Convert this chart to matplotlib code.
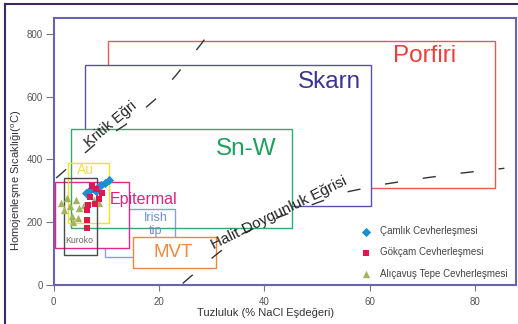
import matplotlib
matplotlib.use('Agg')
import matplotlib.pyplot as plt
from matplotlib.patches import Rectangle
from matplotlib.lines import Line2D

plt.rcParams['font.family'] = ['Liberation Sans', 'DejaVu Sans']
plt.rcParams['mathtext.fontset'] = 'custom'
plt.rcParams['mathtext.rm'] = 'Liberation Sans'
plt.rcParams['lines.scale_dashes'] = False

# Deposit fields: salinity (% NaCl eq.) and homogenization temperature (C) ranges
zones = ['Porfiri', 'Skarn', 'Sn-W', 'Irish', 'Epitermal', 'Au', 'Kuroko', 'MVT']
zone_sal = [(10.4, 83.7), (6.0, 60.3), (3.3, 45.2), (9.8, 23.0),
            (0.3, 14.3), (2.8, 10.6), (2.0, 8.2), (15.1, 30.9)]
zone_temp = [(309, 778), (252, 701), (183, 496), (90, 241),
             (119, 329), (197, 390), (96, 340), (53, 154)]

# Critical curve and halite saturation curve
kritik_x = [0.5, 7.7, 13.6, 19.2, 23.4, 28.0, 29.1]
kritik_y = [341, 446, 510, 590, 672, 768, 793]
halit_x = [24.5, 30.5, 36.0, 43.0, 50.0, 56.0, 63.0, 70.0, 77.0, 85.5]
halit_y = [5, 92, 165, 218, 262, 298, 322, 340, 356, 372]

# Fluid inclusion measurements
camlik_sal = [6.2, 6.9, 7.7, 8.1, 8.4, 9.0, 9.8, 10.5]
camlik_temp = [293, 303, 306, 300, 312, 319, 325, 335]
gokcam_sal = [7.3, 8.1, 9.2, 6.9, 8.6, 7.9, 6.5, 6.4, 6.4, 6.4]
gokcam_temp = [315, 306, 293, 280, 274, 258, 255, 239, 207, 182]
alicavus_sal = [2.6, 4.3, 3.1, 4.8, 3.5, 4.6, 5.8, 3.7, 2.0, 7.7, 1.4, 8.6]
alicavus_temp = [277, 271, 252, 245, 220, 214, 255, 201, 239, 271, 261, 262]

# colour, z of white fill (None = no fill), z of outline
zone_style = {
    'Porfiri':   ('#e65a55', 1, 1),
    'Skarn':     ('#5a52a8', 2, 2),
    'Sn-W':      ('#33a872', 3, 6),
    'Irish':     ('#86a2d4', None, 4),
    'Epitermal': ('#e2278c', 5, 6),
    'Au':        ('#f2e41c', None, 6),
    'Kuroko':    ('#4a4a4a', None, 6),
    'MVT':       ('#f0883c', 7, 7),
}

fig = plt.figure(figsize=(5.18, 3.24), dpi=100)
ax = fig.add_axes([0.1033, 0.1204, 0.8928, 0.8241])
ax.set_xlim(0, 87.7)
ax.set_ylim(0, 851)

for name, (x0, x1), (y0, y1) in zip(zones, zone_sal, zone_temp):
    color, fill_z, edge_z = zone_style[name]
    if fill_z is not None:
        ax.add_patch(Rectangle((x0, y0), x1 - x0, y1 - y0, facecolor='white',
                               edgecolor='none', zorder=fill_z))
    ax.add_patch(Rectangle((x0, y0), x1 - x0, y1 - y0, facecolor='none',
                           edgecolor=color, lw=1.0, zorder=edge_z + 0.5))

dash = (9.5, 18)
ax.plot(kritik_x, kritik_y, color='#333333', lw=1.0, dashes=dash, zorder=8)
ax.plot(halit_x, halit_y, color='#333333', lw=1.0, dashes=dash, zorder=8)

# field names
ax.text(70.3, 730, 'Porfiri', color='#e8403a', fontsize=17.5, ha='center', va='center', zorder=9)
ax.text(52.4, 648, 'Skarn', color='#3c3490', fontsize=17.5, ha='center', va='center', zorder=9)
ax.text(36.5, 433, 'Sn-W', color='#1f9e5e', fontsize=17.5, ha='center', va='center', zorder=9)
ax.text(10.7, 274, 'Epitermal', color='#e0207f', fontsize=11.5, ha='left', va='center', zorder=9)
ax.text(19.4, 193, 'Irish\ntip', color='#7290c8', fontsize=9, ha='center', va='center',
        linespacing=1.15, zorder=9)
ax.text(22.7, 102, 'MVT', color='#f08a3c', fontsize=13.5, ha='center', va='center', zorder=9)
ax.text(6.1, 366, 'Au', color='#f0de50', fontsize=10, ha='center', va='center', zorder=9)
ax.text(4.85, 143, 'Kuroko', color='#666666', fontsize=6.3, ha='center', va='center', zorder=9)
ax.text(10.9, 513, 'Kritik Eğri', color='#222222', fontsize=10.5, rotation=40,
        ha='center', va='center', rotation_mode='anchor', zorder=9)
ax.text(42.8, 229, 'Halit Doygunluk Eğrisi', color='#222222', fontsize=11, rotation=26,
        ha='center', va='center', rotation_mode='anchor', zorder=9)

ax.scatter(camlik_sal, camlik_temp, marker='D', s=22, color='#1b8fd2', lw=0,
           zorder=10, label='Çamlık Cevherleşmesi')
ax.scatter(gokcam_sal, gokcam_temp, marker='s', s=22, color='#e0164e', lw=0,
           zorder=11, label='Gökçam Cevherleşmesi')
ax.scatter(alicavus_sal, alicavus_temp, marker='^', s=28, color='#a5b25e', lw=0,
           zorder=9.5, label='Alıçavuş Tepe Cevherleşmesi')
leg = ax.legend(loc='upper left', bbox_to_anchor=(0.666, 0.22), frameon=False,
                fontsize=7, handlelength=1.0, handletextpad=0.9, labelspacing=1.15,
                borderpad=0, borderaxespad=0)
for t in leg.get_texts():
    t.set_color('#444444')
leg.set_zorder(12)

ax.set_xticks([0, 20, 40, 60, 80])
ax.set_yticks([0, 200, 400, 600, 800])
ax.tick_params(axis='x', length=4.5, width=0.8, color='#777777', labelcolor='#555555',
               labelsize=7, pad=4)
ax.tick_params(axis='y', length=6, width=0.8, color='#777777', labelcolor='#555555',
               labelsize=7, pad=1.5)
for sp in ax.spines.values():
    sp.set_color('#6a62b4')
    sp.set_linewidth(1.5)

ax.set_xlabel('Tuzluluk (% NaCl Eşdeğeri)', fontsize=8, color='#333333')
ax.xaxis.set_label_coords(0.459, -0.087)
ax.set_ylabel(r'Homojenleşme Sıcaklığı($^{\mathrm{o}}$C)', fontsize=8, color='#333333')
ax.yaxis.set_label_coords(-0.064, 0.393)

# dark border along the top and left of the figure
fig.add_artist(Line2D([5 / 518, 5 / 518], [0, 1 - 4 / 324], color='#3e2a60', lw=1.5))
fig.add_artist(Line2D([5 / 518, 1], [1 - 4 / 324, 1 - 4 / 324], color='#3e2a60', lw=1.5))

fig.savefig('out.png', dpi=100)
